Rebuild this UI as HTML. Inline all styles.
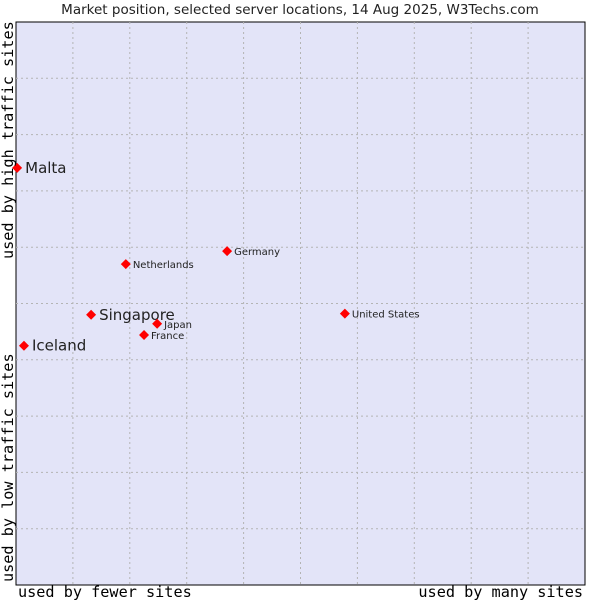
<!DOCTYPE html>
<html><head><meta charset="utf-8"><style>
body{margin:0;background:#fff;}
svg text{font-family:"DejaVu Sans","Liberation Sans",sans-serif;fill:#222;}
.mono{font-family:"DejaVu Sans Mono","Liberation Mono",monospace;font-size:15.2px;fill:#000;}
</style></head><body>
<svg id="chart" width="600" height="600" xmlns="http://www.w3.org/2000/svg">
<text x="300" y="14" text-anchor="middle" font-size="13.5">Market position, selected server locations, 14 Aug 2025, W3Techs.com</text>
<rect x="16" y="22" width="569" height="563" fill="#e3e4f8" stroke="#000" stroke-width="1"/>
<g id="grid"></g>
<g id="points"></g>
<text class="mono" x="18" y="597">used by fewer sites</text>
<text class="mono" x="583" y="597" text-anchor="end">used by many sites</text>
<text class="mono" transform="translate(13,582) rotate(-90)">used by low traffic sites</text>
<text class="mono" transform="translate(13,259) rotate(-90)">used by high traffic sites</text>
</svg>
<script>
const names=["Malta","Iceland","Singapore","Netherlands","Japan","France","Germany","United States"];
const xVals=[0.2,1.4,13.2,19.3,24.8,22.5,37.1,57.8];
const yVals=[74.1,42.5,48.0,57.0,46.4,44.4,59.3,48.2];
const bigLabel=[true,true,true,false,false,false,false,false];
const NS="http://www.w3.org/2000/svg";
const X0=16,X1=585,Y0=585,Y1=22;
const sx=v=>X0+v/100*(X1-X0);
const sy=v=>Y0-v/100*(Y0-Y1);
const grid=document.getElementById('grid');
for(let i=1;i<10;i++){
  const gx=document.createElementNS(NS,'line');
  
  
  gx.setAttribute('x1',sx(i*10));gx.setAttribute('x2',sx(i*10));
  gx.setAttribute('y1',Y1);gx.setAttribute('y2',Y0);
  gx.setAttribute('stroke','#b4b4b4');gx.setAttribute('stroke-dasharray','2,3');
  grid.appendChild(gx);
  const gy=document.createElementNS(NS,'line');
  
  
  gy.setAttribute('y1',sy(i*10));gy.setAttribute('y2',sy(i*10));
  gy.setAttribute('x1',X0);gy.setAttribute('x2',X1);
  gy.setAttribute('stroke','#b4b4b4');gy.setAttribute('stroke-dasharray','2,3');
  grid.appendChild(gy);
}
const pts=document.getElementById('points');
names.forEach((n,i)=>{
  const x=sx(xVals[i]),y=sy(yVals[i]);
  const d=document.createElementNS(NS,'path');
  
  
  d.setAttribute('d',`M${x-5},${y}L${x},${y-5}L${x+5},${y}L${x},${y+5}Z`);
  d.setAttribute('fill','#f00');
  pts.appendChild(d);
  const t=document.createElementNS(NS,'text');
  
  
  t.setAttribute('x',x+(bigLabel[i]?8:7));
  t.setAttribute('y',y+(bigLabel[i]?5:4));
  t.setAttribute('font-size',bigLabel[i]?'15':'10');
  t.textContent=n;
  pts.appendChild(t);
});
</script>
</body></html>
